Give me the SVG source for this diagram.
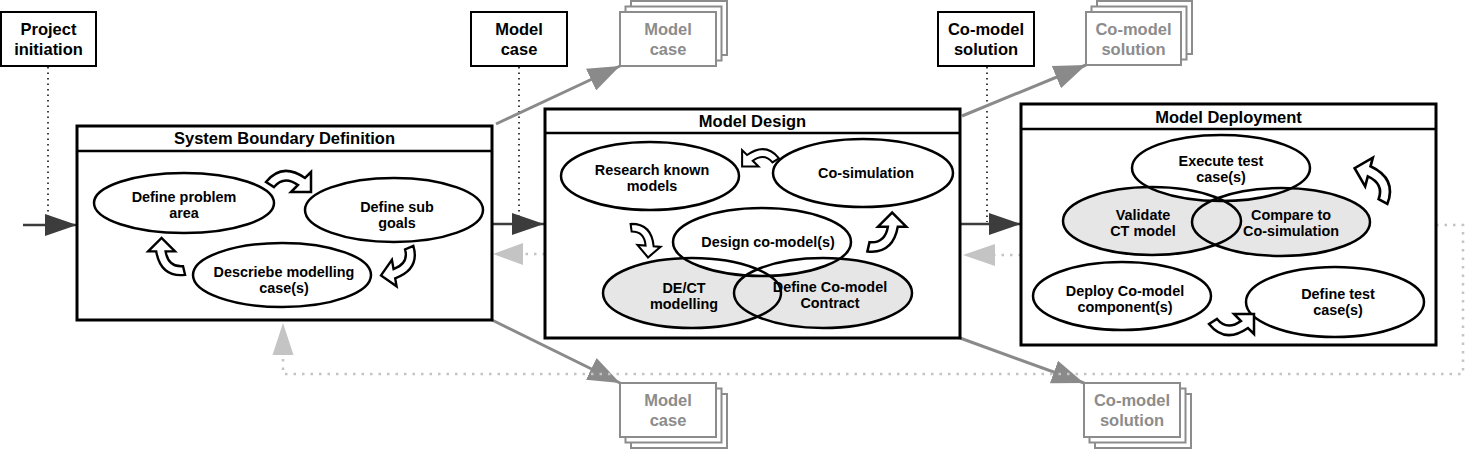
<svg xmlns="http://www.w3.org/2000/svg" xmlns:xlink="http://www.w3.org/1999/xlink" width="1469" height="450" viewBox="0 0 1469 450">
<style>
text{font-family:"Liberation Sans",Arial,sans-serif;font-weight:bold;text-anchor:middle;fill:#000}
.lbl{font-size:16.5px}
.el{font-size:14.4px}
.gt{fill:#8c8c8c;font-size:16.5px}
.box{fill:#fff;stroke:#000;stroke-width:2}
.phase{fill:#fff;stroke:#000;stroke-width:3}
.sep{stroke:#000;stroke-width:2.5}
.ew{fill:#fff;stroke:#000;stroke-width:2.5}
.eg{fill:#e6e6e6;stroke:none}
.eo{fill:none;stroke:#000;stroke-width:2.5}
.gbox{fill:#fff;stroke:#8c8c8c;stroke-width:2}
.ca{fill:#fff;stroke:#000;stroke-width:2.5;stroke-linejoin:miter}
.dark{stroke:#3c3c3c;stroke-width:2.5;fill:none}
.grey{stroke:#8a8a8a;stroke-width:3;fill:none}
.bdot{stroke:#000;stroke-width:1.5;stroke-dasharray:1.5 4;fill:none}
.gdot{stroke:#c4c4c4;stroke-width:2.5;stroke-dasharray:2.5 6;fill:none}
</style>
<defs>
<path id="carrow" d="M0,15 Q16,-5 39,11 L45,5 L45,25 L25,25 L32,18 Q18,8 8,20 Z"/>
<marker id="mdark" markerUnits="userSpaceOnUse" markerWidth="34" markerHeight="22" refX="32" refY="11" orient="auto">
<path d="M0,0 L32,11 L0,22 Z" fill="#3c3c3c"/>
</marker>
<marker id="mgrey" markerUnits="userSpaceOnUse" markerWidth="34" markerHeight="24" refX="32" refY="12" orient="auto">
<path d="M0,0 L32,12 L0,24 Z" fill="#8a8a8a"/>
</marker>
</defs>

<g id="connectors">
<line class="bdot" x1="48" y1="67" x2="48" y2="222"/>
<line class="bdot" x1="519" y1="67" x2="519" y2="222"/>
<line class="bdot" x1="987" y1="67" x2="987" y2="222"/>
<line class="dark" x1="23" y1="225" x2="77" y2="225" marker-end="url(#mdark)"/>
<line class="dark" x1="492" y1="224" x2="544" y2="224" marker-end="url(#mdark)"/>
<line class="dark" x1="960" y1="224" x2="1021" y2="224" marker-end="url(#mdark)"/>
<line class="grey" x1="496" y1="124" x2="620" y2="66" marker-end="url(#mgrey)"/>
<line class="grey" x1="492" y1="320" x2="620" y2="383" marker-end="url(#mgrey)"/>
<line class="grey" x1="962" y1="116" x2="1086" y2="65" marker-end="url(#mgrey)"/>
<line class="grey" x1="960" y1="338" x2="1084" y2="383" marker-end="url(#mgrey)"/>
<path class="gdot" d="M1436,225 L1463,225 L1463,374 L283,374 L283,356"/>
<path d="M283,323 L272.5,355 L293.5,355 Z" fill="#c4c4c4"/>
<line class="gdot" x1="545" y1="254" x2="522" y2="254"/>
<path d="M493,254 L523,243 L523,265 Z" fill="#c4c4c4"/>
<line class="gdot" x1="1021" y1="255" x2="994" y2="255"/>
<path d="M963,255 L995,244 L995,266 Z" fill="#c4c4c4"/>
</g>

<g id="project-initiation">
<rect class="box" x="1" y="12" width="95" height="54"/>
<text class="lbl" x="48.5" y="35">Project</text>
<text class="lbl" x="48.5" y="55">initiation</text>
</g>
<g id="model-case-input">
<rect class="box" x="471" y="12" width="96" height="54"/>
<text class="lbl" x="519" y="35">Model</text>
<text class="lbl" x="519" y="55">case</text>
</g>
<g id="comodel-solution-input">
<rect class="box" x="938" y="12" width="96" height="54"/>
<text class="lbl" x="986" y="35">Co-model</text>
<text class="lbl" x="986" y="55">solution</text>
</g>

<g id="model-case-out-top">
<rect class="gbox" x="631" y="1" width="96" height="54"/>
<rect class="gbox" x="625.5" y="6.5" width="96" height="54"/>
<rect class="gbox" x="620" y="12" width="96" height="54"/>
<text class="gt" x="668" y="35">Model</text>
<text class="gt" x="668" y="55">case</text>
</g>
<g id="comodel-solution-out-top">
<rect class="gbox" x="1097" y="1" width="95" height="53"/>
<rect class="gbox" x="1091.5" y="6.5" width="95" height="53"/>
<rect class="gbox" x="1086" y="12" width="95" height="53"/>
<text class="gt" x="1133.5" y="35">Co-model</text>
<text class="gt" x="1133.5" y="55">solution</text>
</g>
<g id="model-case-out-bottom">
<rect class="gbox" x="631" y="394" width="96" height="54"/>
<rect class="gbox" x="625.5" y="388.5" width="96" height="54"/>
<rect class="gbox" x="620" y="383" width="96" height="54"/>
<text class="gt" x="668" y="406">Model</text>
<text class="gt" x="668" y="426">case</text>
</g>
<g id="comodel-solution-out-bottom">
<rect class="gbox" x="1095" y="394" width="96" height="54"/>
<rect class="gbox" x="1089.5" y="388.5" width="96" height="54"/>
<rect class="gbox" x="1084" y="383" width="96" height="54"/>
<text class="gt" x="1132" y="406">Co-model</text>
<text class="gt" x="1132" y="426">solution</text>
</g>

<g id="system-boundary-definition">
<rect class="phase" x="77" y="126" width="415" height="194"/>
<line class="sep" x1="77" y1="151" x2="492" y2="151"/>
<text class="lbl" x="284.5" y="144">System Boundary Definition</text>
<ellipse class="ew" cx="184" cy="203" rx="90" ry="30"/>
<text class="el" x="184" y="202">Define problem</text>
<text class="el" x="184" y="218">area</text>
<ellipse class="ew" cx="394" cy="210" rx="89" ry="32"/>
<text class="el" x="397" y="212">Define sub</text>
<text class="el" x="397" y="228">goals</text>
<ellipse class="ew" cx="282" cy="275" rx="89" ry="32"/>
<text class="el" x="284" y="277">Descriebe modelling</text>
<text class="el" x="284" y="293">case(s)</text>
<use xlink:href="#carrow" class="ca" transform="translate(266,167)"/>
<use xlink:href="#carrow" class="ca" transform="translate(425,254) rotate(125) scale(0.95)"/>
<use xlink:href="#carrow" class="ca" transform="translate(175,285) rotate(225) scale(0.95)"/>
</g>

<g id="model-design">
<rect class="phase" x="545" y="109" width="415" height="229"/>
<line class="sep" x1="545" y1="133" x2="960" y2="133"/>
<text class="lbl" x="752.5" y="127">Model Design</text>
<ellipse class="ew" cx="650" cy="176" rx="89" ry="34"/>
<text class="el" x="652" y="175">Research known</text>
<text class="el" x="652" y="191">models</text>
<ellipse class="ew" cx="863" cy="173" rx="90" ry="34"/>
<text class="el" x="866" y="178">Co-simulation</text>
<ellipse class="eg" cx="692" cy="293" rx="89" ry="35"/>
<ellipse class="eg" cx="823" cy="293" rx="89" ry="35"/>
<ellipse class="ew" cx="762" cy="242" rx="89" ry="34" style="stroke:none"/>
<ellipse class="eo" cx="692" cy="293" rx="89" ry="35"/>
<ellipse class="eo" cx="823" cy="293" rx="89" ry="35"/>
<ellipse class="eo" cx="762" cy="242" rx="89" ry="34"/>
<text class="el" x="768" y="247">Design co-model(s)</text>
<text class="el" x="684" y="293">DE/CT</text>
<text class="el" x="684" y="309">modelling</text>
<text class="el" x="830" y="292">Define Co-model</text>
<text class="el" x="830" y="308">Contract</text>
<use xlink:href="#carrow" class="ca" transform="translate(779,146) scale(-0.82,0.82)"/>
<use xlink:href="#carrow" class="ca" transform="translate(640,216) rotate(50) scale(0.82)"/>
<use xlink:href="#carrow" class="ca" transform="translate(878,262) scale(1,-1) rotate(45)"/>
</g>

<g id="model-deployment">
<rect class="phase" x="1021" y="104" width="415" height="241"/>
<line class="sep" x1="1021" y1="129" x2="1436" y2="129"/>
<text class="lbl" x="1228.5" y="123">Model Deployment</text>
<ellipse class="eg" cx="1152" cy="221" rx="89" ry="34"/>
<ellipse class="eg" cx="1281" cy="222" rx="89" ry="34"/>
<ellipse class="ew" cx="1221" cy="168" rx="89" ry="33" style="stroke:none"/>
<ellipse class="eo" cx="1152" cy="221" rx="89" ry="34"/>
<ellipse class="eo" cx="1281" cy="222" rx="89" ry="34"/>
<ellipse class="eo" cx="1221" cy="168" rx="89" ry="33"/>
<text class="el" x="1221" y="166">Execute test</text>
<text class="el" x="1221" y="182">case(s)</text>
<text class="el" x="1143" y="220">Validate</text>
<text class="el" x="1143" y="236">CT model</text>
<text class="el" x="1291" y="220">Compare to</text>
<text class="el" x="1291" y="236">Co-simulation</text>
<ellipse class="ew" cx="1122" cy="296" rx="89" ry="34"/>
<text class="el" x="1125" y="296">Deploy Co-model</text>
<text class="el" x="1125" y="312">component(s)</text>
<ellipse class="ew" cx="1335" cy="302" rx="89" ry="35"/>
<text class="el" x="1338" y="299">Define test</text>
<text class="el" x="1338" y="315">case(s)</text>
<use xlink:href="#carrow" class="ca" transform="translate(1401,196) scale(-1.05,1.05) rotate(-60)"/>
<use xlink:href="#carrow" class="ca" transform="translate(1209,339) scale(1,-1)"/>
</g>
</svg>
